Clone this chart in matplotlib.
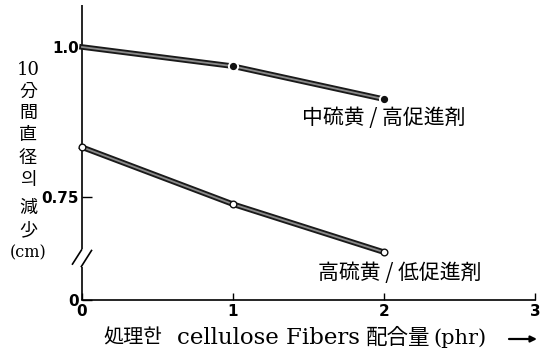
import matplotlib
matplotlib.use("Agg")
import matplotlib.pyplot as plt
import matplotlib.patheffects as pe

plt.rcParams['font.family'] = ['DejaVu Sans', 'Noto Sans CJK KR']
plt.rcParams['xtick.direction'] = 'in'
plt.rcParams['ytick.direction'] = 'in'

# data
phr = [0, 1, 2]
medium_sulfur = [1.00, 0.968, 0.913]   # 中硫黄 / 高促進剤
high_sulfur = [0.833, 0.738, 0.658]    # 高硫黄 / 低促進剤
x_ticks = [0, 1, 2, 3]
x_tick_labels = ['0', '1', '2', '3']
y_ticks = [0.5783, 0.75, 1.0]          # bottom tick sits below the axis break
y_tick_labels = ['0', '0.75', '1.0']
ylabel_chars = ['10', '分', '間', '直', '径', '의', '減', '少', '(cm)']

W, H = 548, 352
fig = plt.figure(figsize=(W / 100, H / 100), dpi=100)


def fx(x):
    return x / W


def fy(y):
    return 1 - y / H


ax = fig.add_axes([fx(82), fy(300), (535 - 82) / W, (300 - 5) / H])
ax.set_xlim(0, 3)
ax.set_ylim(0.5783, 1.07)

for s in ('left', 'top', 'right'):
    ax.spines[s].set_visible(False)
ax.spines['bottom'].set_linewidth(1.2)

# broken y axis
yax = dict(color='black', lw=1.2, clip_on=False, solid_capstyle='butt')
ax.plot([0, 0], [0.5783, 0.633], **yax)
ax.plot([0, 0], [0.663, 1.07], **yax)
ax.plot([-0.066, 0.0], [0.637, 0.663], **yax)
ax.plot([-0.007, 0.066], [0.633, 0.662], **yax)

ax.set_xticks(x_ticks)
ax.set_xticklabels(x_tick_labels, fontsize=11, fontweight='bold')
ax.set_yticks(y_ticks)
ax.set_yticklabels(y_tick_labels, fontsize=11, fontweight='bold')
ax.tick_params(axis='x', direction='in', length=5, width=1.0, pad=3)
ax.tick_params(axis='y', direction='in', length=7, width=1.0, pad=2)

tube = [pe.Stroke(linewidth=4.0, foreground='#1a1a1a'), pe.Normal()]
ax.plot(phr, medium_sulfur, color='#8a8a8a', lw=1.3, path_effects=tube,
        clip_on=False, zorder=3)
ax.plot(phr, high_sulfur, color='#8a8a8a', lw=1.3, path_effects=tube,
        clip_on=False, zorder=3)

# markers with a small white halo
ax.plot(phr[1:], medium_sulfur[1:], 'o', ms=7, color='white', zorder=4, clip_on=False)
ax.plot(phr[1:], medium_sulfur[1:], 'o', ms=4.2, color='#111111', zorder=5, clip_on=False)
ax.plot(phr, high_sulfur, 'o', ms=4.8, mfc='white', mec='#111111', mew=1.0,
        zorder=5, clip_on=False)

cjk = ['Noto Sans CJK KR', 'DejaVu Sans']
serif = ['DejaVu Serif', 'Noto Sans CJK KR']
ax.text(2.0, 0.882, '中硫黄 / 高促進剤', family=cjk, fontsize=15,
        ha='center', va='center')
ax.text(2.105, 0.624, '高硫黄 / 低促進剤', family=cjk, fontsize=15,
        ha='center', va='center')

# vertical y-axis title
ys = [70, 92, 113, 135, 158, 180, 208, 230, 253]
for ch, y in zip(ylabel_chars, ys):
    if ch == '10':
        fam, size = serif, 13
    elif ch == '(cm)':
        fam, size = serif, 11.5
    else:
        fam, size = cjk, 13
    fig.text(fx(28), fy(y), ch, family=fam, fontsize=size,
             ha='center', va='center')

# x-axis title with arrow
fig.text(fx(103), fy(338), '処理한', family=cjk, fontsize=14.5,
         ha='left', va='center')
fig.text(fx(177), fy(338), 'cellulose Fibers', family=serif, fontsize=16.5,
         ha='left', va='center')
fig.text(fx(366), fy(338), '配合量', family=cjk, fontsize=15.5,
         ha='left', va='center')
fig.text(fx(433), fy(338), '(phr)', family=serif, fontsize=15,
         ha='left', va='center')
ax.annotate('', xy=(537, H - 339), xytext=(509, H - 339),
            xycoords='figure pixels', textcoords='figure pixels',
            arrowprops=dict(arrowstyle='-|>', lw=1.6, color='black',
                            mutation_scale=9, shrinkA=0, shrinkB=0))

fig.savefig('out.png', dpi=100)
